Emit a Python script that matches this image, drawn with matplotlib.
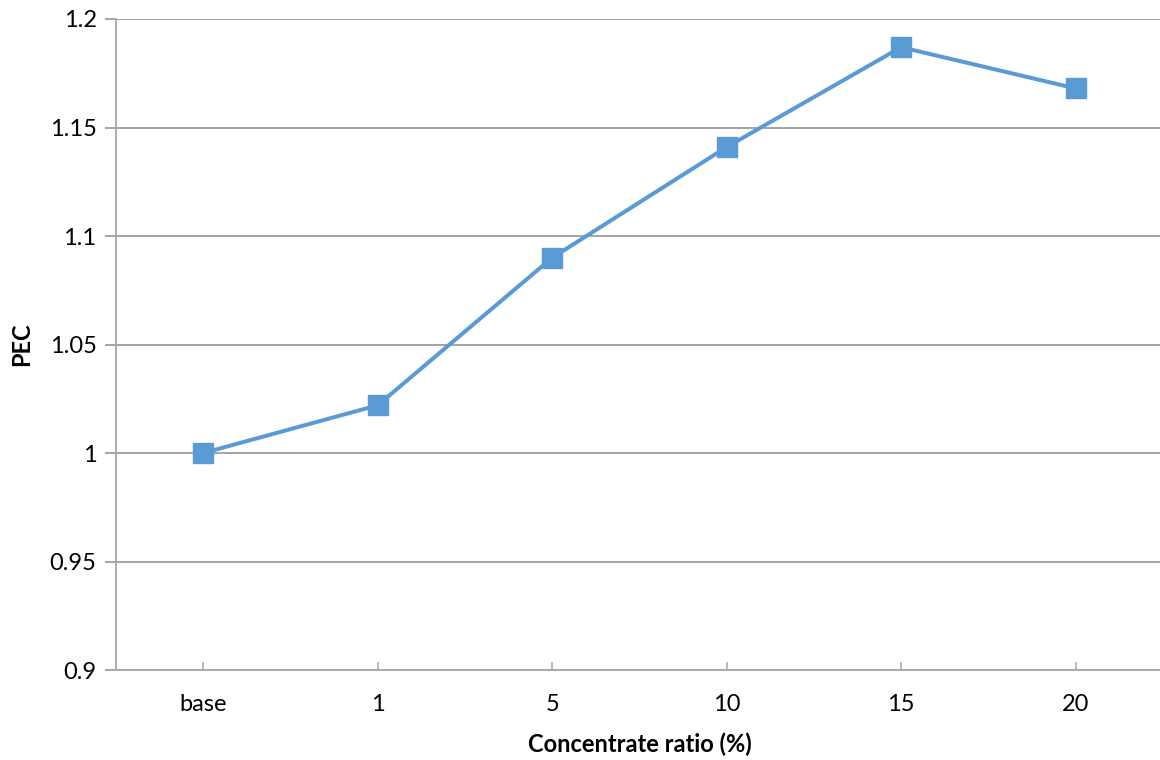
import matplotlib.pyplot as plt

# Datos
categories = ["base", "1", "5", "10", "15", "20"]
pec_values = [1.0, 1.022, 1.09, 1.141, 1.187, 1.168]
y_ticks = [0.9, 0.95, 1.0, 1.05, 1.1, 1.15, 1.2]
y_tick_labels = ["0.9", "0.95", "1", "1.05", "1.1", "1.15", "1.2"]

plt.rcParams['font.family'] = ['Lato', 'DejaVu Sans']

fig = plt.figure(figsize=(11.6, 7.6), dpi=100)
ax = fig.add_axes([0.1, 0.1184, 0.9025, 0.8566])

x = range(len(categories))
ax.plot(x, pec_values, color='#5B9BD5', linewidth=2.9, marker='s',
        markersize=14.5, zorder=3, clip_on=False)

ax.set_xlim(-0.5, len(categories) - 0.5)
ax.set_ylim(0.9, 1.2)
ax.set_xticks(list(x))
ax.set_xticklabels(categories, fontsize=17)
ax.set_yticks(y_ticks)
ax.set_yticklabels(y_tick_labels, fontsize=17)

# Rejilla horizontal
ax.grid(axis='y', color='#8c8c8c', linewidth=1.1)
ax.set_axisbelow(True)

for side in ['top', 'right']:
    ax.spines[side].set_visible(False)
ax.spines['left'].set_color('#a6a6a6')
ax.spines['bottom'].set_color('#a6a6a6')
ax.spines['left'].set_linewidth(1.3)
ax.spines['bottom'].set_linewidth(1.3)

ax.tick_params(axis='x', direction='in', length=6, color='#a6a6a6', width=1.1, pad=17)
ax.tick_params(axis='y', direction='out', length=8, color='#8c8c8c', width=1.1, pad=6)

ax.set_xlabel('Concentrate ratio (%)', fontsize=17, fontweight='bold', labelpad=13)
ax.set_ylabel('PEC', fontsize=17, fontweight='bold', labelpad=12)

fig.savefig('out.png', dpi=100)
